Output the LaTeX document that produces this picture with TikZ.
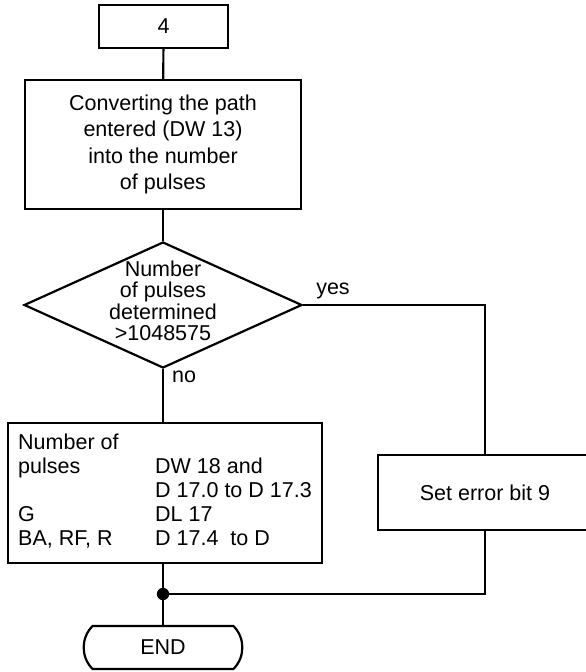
\documentclass[tikz,border=0pt]{standalone}
\usepackage{fontspec}
\setmainfont{Liberation Sans}
\usetikzlibrary{shapes.geometric,shapes.misc}
\tikzset{
  box/.style={draw, line width=1.1pt, align=center, inner sep=0pt},
  decision/.style={draw, diamond, line width=1.1pt, inner sep=0pt,
    minimum width=139pt, minimum height=63pt},
  terminal/.style={draw, rounded rectangle, rounded rectangle arc length=90,
    line width=1.1pt, minimum width=86pt, minimum height=21.5pt},
  link/.style={line width=1.1pt},
}

\begin{document}
\begin{tikzpicture}[x=0.5pt, y=-0.5pt,
    every node/.style={font=\fontsize{10.75}{13.25}\selectfont}]
      \useasboundingbox (0,0) rectangle (585,672);
      \node[box, minimum width=64.5pt, minimum height=21.5pt] (n4) at (163.5,26.5) {4};
      \node[box, minimum width=138pt, minimum height=64.5pt] (conv) at (163,144.5)
	{Converting the path\\entered (DW 13)\\into the number\\of pulses};
      \node[decision] (dec) at (163,305) {};
      \node[font=\fontsize{10.75}{10.75}\selectfont, align=center] (dectext) at (163,301)
	{Number\\of pulses\\determined\\>1048575};
      \node (yes) at (333,291) {yes};
      \node (no) at (184,377) {no};
      \node[box, minimum width=157pt, minimum height=70pt,
	font=\fontsize{10.75}{12}\selectfont] (res) at (165,493)
	{\begin{tabular}{@{}p{68.5pt}@{}l@{}}
	  Number of & \\
	  pulses & DW 18 and\\
	  & D 17.0 to D 17.3\\
	  G & DL 17\\
	  BA, RF, R & D 17.4\ \ to D
	\end{tabular}};
      \node[box, minimum width=107pt, minimum height=37.5pt] (err) at (485,492.5) {Set error bit 9};
      \coordinate (j) at (163,594);
      \node[terminal] (fin) at (163,647.5) {END};
      \draw[link] (n4) -- (conv);
      \draw[link] (conv) -- (dec);
      \draw[link] (dec.south) -- (dec.south |- res.north);
      \draw[link] (dec.east) -| (err.north);
      \draw[link] (j |- res.south) -- (j) -- (fin.north);
      \draw[link] (err.south) |- (j);
      \fill (j) circle (3.1pt);
    \end{tikzpicture}
\end{document}
